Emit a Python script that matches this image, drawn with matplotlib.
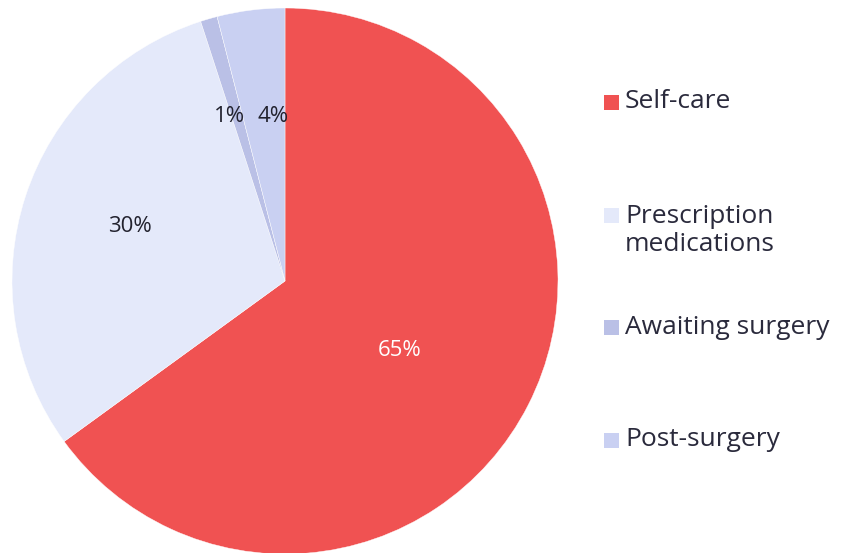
import matplotlib
matplotlib.use("Agg")
import matplotlib.pyplot as plt
from matplotlib.patches import Rectangle

categories = ["Self-care", "Prescription\nmedications", "Awaiting surgery", "Post-surgery"]
values = [65, 30, 1, 4]
pct_labels = ["65%", "30%", "1%", "4%"]
colors = ["#F05252", "#E4E9FA", "#BAC0E6", "#C9D0F2"]
pct_colors = ["#FFFFFF", "#22222E", "#22222E", "#22222E"]

plt.rcParams['font.family'] = ['Open Sans', 'DejaVu Sans']
W, H = 842, 553
fig = plt.figure(figsize=(W / 100, H / 100), dpi=100)

cx, cy, r = 285, 281, 273
ax = fig.add_axes([(cx - r) / W, (H - cy - r) / H, 2 * r / W, 2 * r / H])
wedges, _ = ax.pie(values, colors=colors, startangle=90, counterclock=False,
                   radius=1, wedgeprops=dict(edgecolor="white", linewidth=0.3))
ax.set_xlim(-1, 1)
ax.set_ylim(-1, 1)
ax.set_aspect("equal")
ax.axis("off")

# label positions in pixel offsets from the pie centre (converted to data units)
label_px = [(400, 351), (130, 227), (229, 116), (273, 116)]
for lab, (px, py), c in zip(pct_labels, label_px, pct_colors):
    ax.text((px - cx) / r, (cy - py) / r, lab, ha="center", va="center",
            fontsize=16, color=c)

# legend
leg_y = [102, 215, 327, 440]
for cat, col, y in zip(categories, colors, leg_y):
    fig.patches.append(Rectangle((604 / W, (H - y - 7.5) / H), 15 / W, 15 / H,
                                 transform=fig.transFigure, facecolor=col,
                                 edgecolor="none"))
    if "\n" in cat:
        fig.text(625 / W, (H - y - 15.5) / H, cat, ha="left", va="center",
                 fontsize=19, color="#2A2A3C", linespacing=1.2)
    else:
        fig.text(625 / W, (H - y) / H, cat, ha="left", va="center",
                 fontsize=19, color="#2A2A3C")

fig.savefig("out.png", dpi=100, facecolor="white")
